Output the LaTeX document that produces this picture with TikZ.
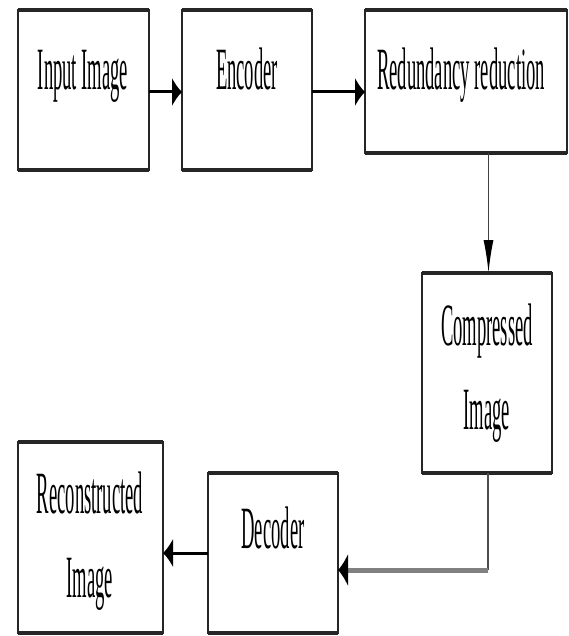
\documentclass[tikz,border=0pt]{standalone}
\usepackage{fontspec}
\setmainfont{Liberation Serif}
\usetikzlibrary{arrows.meta,calc}
\newcommand{\sq}[1]{\scalebox{0.31}[1]{#1}}
\begin{document}
\begin{tikzpicture}[x=1pt,y=-1pt,
  box/.style={draw=black!85, line width=1.3pt, inner sep=0pt, outer sep=0pt},
  edgeline/.style={line width=3.5pt, draw=black!85},
  lbl/.style={anchor=base, inner sep=0pt, font=\fontsize{60}{84}\selectfont},
  harr/.style={line width=3pt, draw=black, -{Latex[length=10pt,width=30pt]}},
  varr/.style={line width=1.5pt, draw=black!75, -{Latex[length=33pt,width=10pt,black]}},
  thinline/.style={line width=1.5pt, draw=black!70},
  grayarr/.style={line width=5pt, draw=black!50, -{Latex[length=10pt,width=34pt,black]}}
]
\useasboundingbox (0,0) rectangle (568,636);

% boxes
\node[box, minimum width=131pt, minimum height=160pt] (in)   at (83.5,90) {};
\node[box, minimum width=130pt, minimum height=160pt] (enc)  at (247,90) {};
\node[box, minimum width=202pt, minimum height=143pt] (red)  at (466,81.5) {};
\node[box, minimum width=130pt, minimum height=200pt] (comp) at (487,373) {};
\node[box, minimum width=130pt, minimum height=160pt] (dec)  at (273,553) {};
\node[box, minimum width=145pt, minimum height=191pt] (rec)  at (90.5,537.5) {};

% thick top and bottom edges
\foreach \b in {in,enc,red,comp,dec,rec}{
  \draw[edgeline] (\b.north west) -- (\b.north east);
  \draw[edgeline] (\b.south west) -- (\b.south east);
}

% labels
\node[lbl] (tin)   at (83,90)   {\sq{Input Image}};
\node[lbl] (tenc)  at (247,90)  {\sq{Encoder}};
\node[lbl] (tred)  at (461,90)  {\sq{Redundancy reduction}};
\node[lbl] (tcomp1) at (487,345) {\sq{Compressed}};
\node[lbl] (tcomp2) at (487,429) {\sq{Image}};
\node[lbl] (tdec)  at (273,548) {\sq{Decoder}};
\node[lbl] (trec1) at (90,513)  {\sq{Reconstructed}};
\node[lbl] (trec2) at (90,597)  {\sq{Image}};

% connectors
\draw[harr] ([yshift=-2pt]in.east) -- ([yshift=-2pt]in.east -| enc.west);
\draw[harr] ([yshift=-2pt]enc.east) -- ([yshift=-2pt]enc.east -| red.west);
\draw[varr] ([xshift=1.5pt]comp.north |- red.south) -- ([xshift=1.5pt]comp.north);
\coordinate (bend) at (488,570);
\draw[thinline] ([xshift=1pt]comp.south) -- (bend);
\draw[grayarr] (bend) -- (bend -| dec.east);
\draw[harr] (dec.west) -- (dec.west -| rec.east);
\end{tikzpicture}
\end{document}
